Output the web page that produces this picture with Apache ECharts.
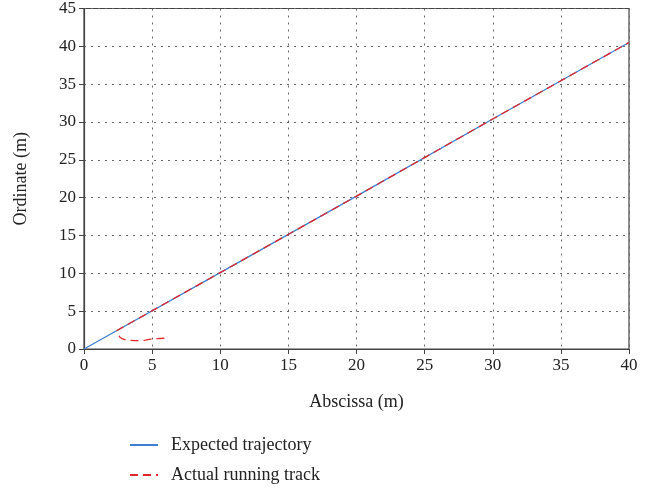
<!DOCTYPE html>
<html>
<head>
<meta charset="utf-8">
<script src="https://cdn.jsdelivr.net/npm/echarts@6/dist/echarts.min.js"></script>
<style>html,body{margin:0;padding:0;background:#fff;}#c{width:666px;height:493px;}</style>
</head>
<body>
<div id="c"></div>
<script>
var seriesNames = ['Expected trajectory', 'Actual running track'];
var expectedX = [0, 10, 20, 30, 40];
var expectedY = [0, 10.1, 20.2, 30.4, 40.5];
var actualX = [5.9, 5.4, 4.9, 4.5, 4.1, 3.7, 3.4, 3.15, 2.95, 2.78, 2.62, 2.52, 2.45, 2.42, 10, 20, 30, 40];
var actualY = [1.42, 1.38, 1.3, 1.18, 1.1, 1.1, 1.13, 1.18, 1.26, 1.38, 1.6, 1.85, 2.15, 2.45, 10.1, 20.2, 30.4, 40.5];
var xTicks = [0, 5, 10, 15, 20, 25, 30, 35, 40];
var yTicks = [0, 5, 10, 15, 20, 25, 30, 35, 40, 45];

function pairs(xs, ys) { return xs.map(function (x, i) { return [x, ys[i]]; }); }

var font = '"Liberation Serif", "DejaVu Serif", serif';
var chart = echarts.init(document.getElementById('c'), null, { renderer: 'canvas' });
chart.setOption({
  animation: false,
  backgroundColor: '#fff',
  textStyle: { fontFamily: font },
  grid: { left: 84, top: 7, right: 37, bottom: 144, show: true, borderColor: '#444', borderWidth: 1.2, backgroundColor: 'transparent' },
  legend: {
    orient: 'vertical', left: 124, top: 431, itemGap: 12, itemWidth: 28, itemHeight: 14,
    itemStyle: { opacity: 0 },
    textStyle: { fontFamily: font, fontSize: 18, color: '#222', padding: [0, 0, 0, 8] },
    data: seriesNames
  },
  xAxis: {
    type: 'value', min: 0, max: 40, interval: 5,
    name: 'Abscissa (m)', nameLocation: 'middle', nameGap: 44,
    nameTextStyle: { fontFamily: font, fontSize: 18, color: '#222' },
    axisLine: { show: true, lineStyle: { color: '#444', width: 1.2 } },
    axisTick: { show: true, inside: false, length: 5, lineStyle: { color: '#444' } },
    axisLabel: { fontFamily: font, fontSize: 17, color: '#222', margin: 8, formatter: function (v) { return xTicks.indexOf(v) >= 0 ? String(v) : ''; } },
    splitLine: { show: true, lineStyle: { type: [2, 5], color: '#666', width: 1 } }
  },
  yAxis: {
    type: 'value', min: 0, max: 45, interval: 5,
    name: 'Ordinate (m)', nameLocation: 'middle', nameGap: 54, nameRotate: 90,
    nameTextStyle: { fontFamily: font, fontSize: 18, color: '#222' },
    axisLine: { show: true, lineStyle: { color: '#444', width: 1.2 } },
    axisTick: { show: true, inside: false, length: 5, lineStyle: { color: '#444' } },
    axisLabel: { fontFamily: font, fontSize: 17, color: '#222', margin: 8, formatter: function (v) { return yTicks.indexOf(v) >= 0 ? String(v) : ''; } },
    splitLine: { show: true, lineStyle: { type: [2, 5], color: '#666', width: 1 } }
  },
  series: [
    {
      name: seriesNames[0], type: 'line', data: pairs(expectedX, expectedY),
      symbol: 'none', smooth: false,
      lineStyle: { color: '#3d7fd0', width: 1.3 }, itemStyle: { color: '#3d7fd0' }
    },
    {
      name: seriesNames[1], type: 'line', data: pairs(actualX, actualY),
      symbol: 'none', smooth: false,
      lineStyle: { color: '#e0262b', width: 1.3, type: [8, 5] }, itemStyle: { color: '#e0262b' }
    }
  ]
});
</script>
</body>
</html>
